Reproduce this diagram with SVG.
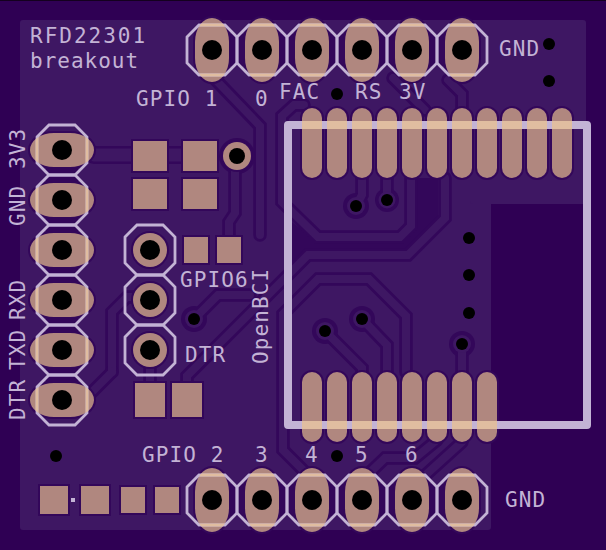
<svg xmlns="http://www.w3.org/2000/svg" xmlns:xlink="http://www.w3.org/1999/xlink" width="606" height="550" viewBox="0 0 606 550">
<style>
.clr{fill:none;stroke:#33075a;stroke-width:13.5;stroke-linejoin:miter;stroke-linecap:round}
.cu{fill:none;stroke:#3e1763;stroke-width:8;stroke-linejoin:miter;stroke-linecap:round}
.wide{stroke-width:13}
.pad{fill:#b0877f}
.silk{fill:none;stroke:#c3b3d5;stroke-width:2.8;stroke-linejoin:miter}
.peach{stroke:#e0bda0}
.frame{stroke-width:8;stroke-linejoin:round}
.hole{fill:#000}
text{font-family:"DejaVu Sans Mono","Liberation Mono",monospace;font-size:21px;fill:#c3b3d5;letter-spacing:1.1px}
.big{letter-spacing:2px}
.low{letter-spacing:1px}
</style>
<defs>
<rect id="v" x="-17" y="-32" width="34" height="64" rx="17" ry="24"/>
<rect id="h" x="-32" y="-17" width="64" height="34" rx="24" ry="17"/>
<rect id="f" x="-10" y="-35" width="20" height="70" rx="10" ry="10"/>
<polygon id="oct" points="-25,-13 -13,-25 13,-25 25,-13 25,13 13,25 -13,25 -25,13"/>
<g id="silkshapes">
<use xlink:href="#oct" x="212" y="50"/><use xlink:href="#oct" x="262" y="50"/><use xlink:href="#oct" x="312" y="50"/><use xlink:href="#oct" x="362" y="50"/><use xlink:href="#oct" x="412" y="50"/><use xlink:href="#oct" x="462" y="50"/>
<use xlink:href="#oct" x="212" y="500"/><use xlink:href="#oct" x="262" y="500"/><use xlink:href="#oct" x="312" y="500"/><use xlink:href="#oct" x="362" y="500"/><use xlink:href="#oct" x="412" y="500"/><use xlink:href="#oct" x="462" y="500"/>
<use xlink:href="#oct" x="62" y="150"/><use xlink:href="#oct" x="62" y="200"/><use xlink:href="#oct" x="62" y="250"/><use xlink:href="#oct" x="62" y="300"/><use xlink:href="#oct" x="62" y="350"/><use xlink:href="#oct" x="62" y="400"/>
<use xlink:href="#oct" x="150" y="250"/><use xlink:href="#oct" x="150" y="300"/><use xlink:href="#oct" x="150" y="350"/>
</g>
<g id="padshapes">
<use xlink:href="#v" x="212" y="50"/><use xlink:href="#v" x="262" y="50"/><use xlink:href="#v" x="312" y="50"/><use xlink:href="#v" x="362" y="50"/><use xlink:href="#v" x="412" y="50"/><use xlink:href="#v" x="462" y="50"/>
<use xlink:href="#v" x="212" y="500"/><use xlink:href="#v" x="262" y="500"/><use xlink:href="#v" x="312" y="500"/><use xlink:href="#v" x="362" y="500"/><use xlink:href="#v" x="412" y="500"/><use xlink:href="#v" x="462" y="500"/>
<use xlink:href="#h" x="62" y="150"/><use xlink:href="#h" x="62" y="200"/><use xlink:href="#h" x="62" y="250"/><use xlink:href="#h" x="62" y="300"/><use xlink:href="#h" x="62" y="350"/><use xlink:href="#h" x="62" y="400"/>
<use xlink:href="#f" x="312" y="143"/><use xlink:href="#f" x="337" y="143"/><use xlink:href="#f" x="362" y="143"/><use xlink:href="#f" x="387" y="143"/><use xlink:href="#f" x="412" y="143"/><use xlink:href="#f" x="437" y="143"/><use xlink:href="#f" x="462" y="143"/><use xlink:href="#f" x="487" y="143"/><use xlink:href="#f" x="512" y="143"/><use xlink:href="#f" x="537" y="143"/><use xlink:href="#f" x="562" y="143"/>
<use xlink:href="#f" x="312" y="407"/><use xlink:href="#f" x="337" y="407"/><use xlink:href="#f" x="362" y="407"/><use xlink:href="#f" x="387" y="407"/><use xlink:href="#f" x="412" y="407"/><use xlink:href="#f" x="437" y="407"/><use xlink:href="#f" x="462" y="407"/><use xlink:href="#f" x="487" y="407"/>
<rect x="133" y="141" width="34" height="30"/><rect x="183" y="141" width="34" height="30"/>
<rect x="133" y="179" width="34" height="30"/><rect x="183" y="179" width="34" height="30"/>
<rect x="184" y="237" width="24" height="26"/><rect x="217" y="237" width="24" height="26"/>
<rect x="135" y="383" width="30" height="34"/><rect x="172" y="383" width="30" height="34"/>
<rect x="40" y="486" width="28" height="28"/><rect x="81" y="486" width="28" height="28"/>
<rect x="121" y="487" width="24" height="26"/><rect x="155" y="487" width="24" height="26"/>
<circle cx="237" cy="156" r="14"/><circle cx="150" cy="250" r="17"/><circle cx="150" cy="300" r="17"/><circle cx="150" cy="350" r="17"/>
</g>
<g id="traces">
<path d="M445,178V218L408,255H308L187,376V390"/>
<path d="M411,178V226L400,237H318L282,202V116L294,105H304"/>
<path d="M406,372V316L369,279H318L283,314V450L312,479V490"/>
<path d="M212,76L260,126V235"/>
<path d="M235,167V213L229,222V237"/>
<path d="M112,372V312L127,297H150"/>
<path d="M84,400L112,372"/>
<path d="M150,350V383"/>
<path d="M325,331L362,368V372"/>
<path d="M362,319L387,345V372"/>
<path d="M362,178V195L356,206"/>
<path d="M387,178V200"/>
<path d="M462,344V372"/>
<path d="M194,319L218,295H250"/>
<path d="M437,440L415,458H385L362,480"/>
<path d="M462,442L420,480L412,490"/>
<path d="M393,78L425,110"/>
<path d="M448,80L462,94V108"/>
</g>
<clipPath id="onpads"><use xlink:href="#v" x="212" y="50"/><use xlink:href="#v" x="262" y="50"/><use xlink:href="#v" x="312" y="50"/><use xlink:href="#v" x="362" y="50"/><use xlink:href="#v" x="412" y="50"/><use xlink:href="#v" x="462" y="50"/>
<use xlink:href="#v" x="212" y="500"/><use xlink:href="#v" x="262" y="500"/><use xlink:href="#v" x="312" y="500"/><use xlink:href="#v" x="362" y="500"/><use xlink:href="#v" x="412" y="500"/><use xlink:href="#v" x="462" y="500"/>
<use xlink:href="#h" x="62" y="150"/><use xlink:href="#h" x="62" y="200"/><use xlink:href="#h" x="62" y="250"/><use xlink:href="#h" x="62" y="300"/><use xlink:href="#h" x="62" y="350"/><use xlink:href="#h" x="62" y="400"/>
<use xlink:href="#f" x="312" y="143"/><use xlink:href="#f" x="337" y="143"/><use xlink:href="#f" x="362" y="143"/><use xlink:href="#f" x="387" y="143"/><use xlink:href="#f" x="412" y="143"/><use xlink:href="#f" x="437" y="143"/><use xlink:href="#f" x="462" y="143"/><use xlink:href="#f" x="487" y="143"/><use xlink:href="#f" x="512" y="143"/><use xlink:href="#f" x="537" y="143"/><use xlink:href="#f" x="562" y="143"/>
<use xlink:href="#f" x="312" y="407"/><use xlink:href="#f" x="337" y="407"/><use xlink:href="#f" x="362" y="407"/><use xlink:href="#f" x="387" y="407"/><use xlink:href="#f" x="412" y="407"/><use xlink:href="#f" x="437" y="407"/><use xlink:href="#f" x="462" y="407"/><use xlink:href="#f" x="487" y="407"/>
</clipPath>
</defs>

<rect id="board" width="606" height="550" fill="#2f0054"/>
<rect y="0" width="606" height="1" fill="#14001f"/>

<g id="pour" fill="#3e1763">
<rect x="20" y="20" width="471" height="510" rx="3"/>
<rect x="470" y="20" width="116" height="184" rx="3"/>
</g>
<g id="voids" fill="#33075a">
<rect x="195" y="34" width="284" height="32"/>
<rect x="195" y="484" width="284" height="32"/>
<rect x="46" y="150" width="32" height="250"/>
<polygon points="292,222 318,243 403,243 417,227 417,178 438,178 438,217 405,250 307,250 292,265"/>
</g>

<g id="connectors">
<use xlink:href="#traces" class="clr"/>
<g fill="#33075a">
<circle cx="237" cy="156" r="18"/><circle cx="194" cy="319" r="13"/><circle cx="356" cy="206" r="13"/><circle cx="387" cy="200" r="12"/>
<circle cx="325" cy="331" r="13"/><circle cx="362" cy="319" r="13"/><circle cx="462" cy="344" r="13"/>
</g>
<use xlink:href="#traces" class="cu"/>
<path d="M94,155H133M167,155H183" class="clr" style="stroke-width:18"/>
<path d="M94,155H133M167,155H183" class="cu wide"/>
<g fill="#3e1763">
<circle cx="194" cy="319" r="9"/><circle cx="356" cy="206" r="9"/><circle cx="387" cy="200" r="8.5"/>
<circle cx="325" cy="331" r="9"/><circle cx="362" cy="319" r="9"/><circle cx="462" cy="344" r="9"/>
</g>
</g>

<use xlink:href="#padshapes" fill="#33075a" stroke="#33075a" stroke-width="4"/>
<use xlink:href="#padshapes" class="pad"/>

<g id="silkscreen">
<use xlink:href="#silkshapes" class="silk"/>
<rect x="288" y="125" width="299" height="300" class="silk frame"/>
<rect x="71" y="498" width="4" height="4" fill="#c3b3d5"/>
<g clip-path="url(#onpads)">
<use xlink:href="#silkshapes" class="silk peach"/>
<rect x="288" y="125" width="299" height="300" class="silk frame peach"/>
</g>
</g>

<g id="holes" class="hole">
<circle cx="212" cy="50" r="10"/><circle cx="262" cy="50" r="10"/><circle cx="312" cy="50" r="10"/><circle cx="362" cy="50" r="10"/><circle cx="412" cy="50" r="10"/><circle cx="462" cy="50" r="10"/>
<circle cx="212" cy="500" r="10"/><circle cx="262" cy="500" r="10"/><circle cx="312" cy="500" r="10"/><circle cx="362" cy="500" r="10"/><circle cx="412" cy="500" r="10"/><circle cx="462" cy="500" r="10"/>
<circle cx="62" cy="150" r="10"/><circle cx="62" cy="200" r="10"/><circle cx="62" cy="250" r="10"/><circle cx="62" cy="300" r="10"/><circle cx="62" cy="350" r="10"/><circle cx="62" cy="400" r="10"/>
<circle cx="150" cy="250" r="10"/><circle cx="150" cy="300" r="10"/><circle cx="150" cy="350" r="10"/>
<circle cx="237" cy="156" r="8"/>
<circle cx="194" cy="319" r="6"/><circle cx="356" cy="206" r="6"/><circle cx="387" cy="200" r="6"/>
<circle cx="325" cy="331" r="6"/><circle cx="362" cy="319" r="6"/><circle cx="462" cy="344" r="6"/>
<circle cx="337" cy="94" r="6"/><circle cx="337" cy="456" r="6"/><circle cx="56" cy="456" r="6"/>
<circle cx="549" cy="44" r="6"/><circle cx="549" cy="81" r="6"/>
<circle cx="469" cy="238" r="6"/><circle cx="469" cy="275" r="6"/><circle cx="469" cy="313" r="6"/>
</g>

<g id="labels">
<text x="30" y="43" class="big">RFD22301</text>
<text x="30" y="68" class="low">breakout</text>
<text x="136" y="106">GPIO 1</text>
<text x="255" y="106">0</text>
<text x="279" y="99">FAC</text>
<text x="355" y="99">RS</text>
<text x="399" y="99">3V</text>
<text x="499" y="56">GND</text>
<text x="505" y="507">GND</text>
<text x="142" y="462">GPIO 2</text>
<text x="255" y="462">3</text>
<text x="305" y="462">4</text>
<text x="355" y="462">5</text>
<text x="405" y="462">6</text>
<text x="185" y="362">DTR</text>
<text x="180" y="287">GPIO6</text>
<text transform="translate(268,364) rotate(-90)">OpenBCI</text>
<text transform="translate(25,169) rotate(-90)">3V3</text>
<text transform="translate(25,226) rotate(-90)">GND</text>
<text transform="translate(25,320) rotate(-90)">RXD</text>
<text transform="translate(25,370) rotate(-90)">TXD</text>
<text transform="translate(25,420) rotate(-90)">DTR</text>
</g>
</svg>
